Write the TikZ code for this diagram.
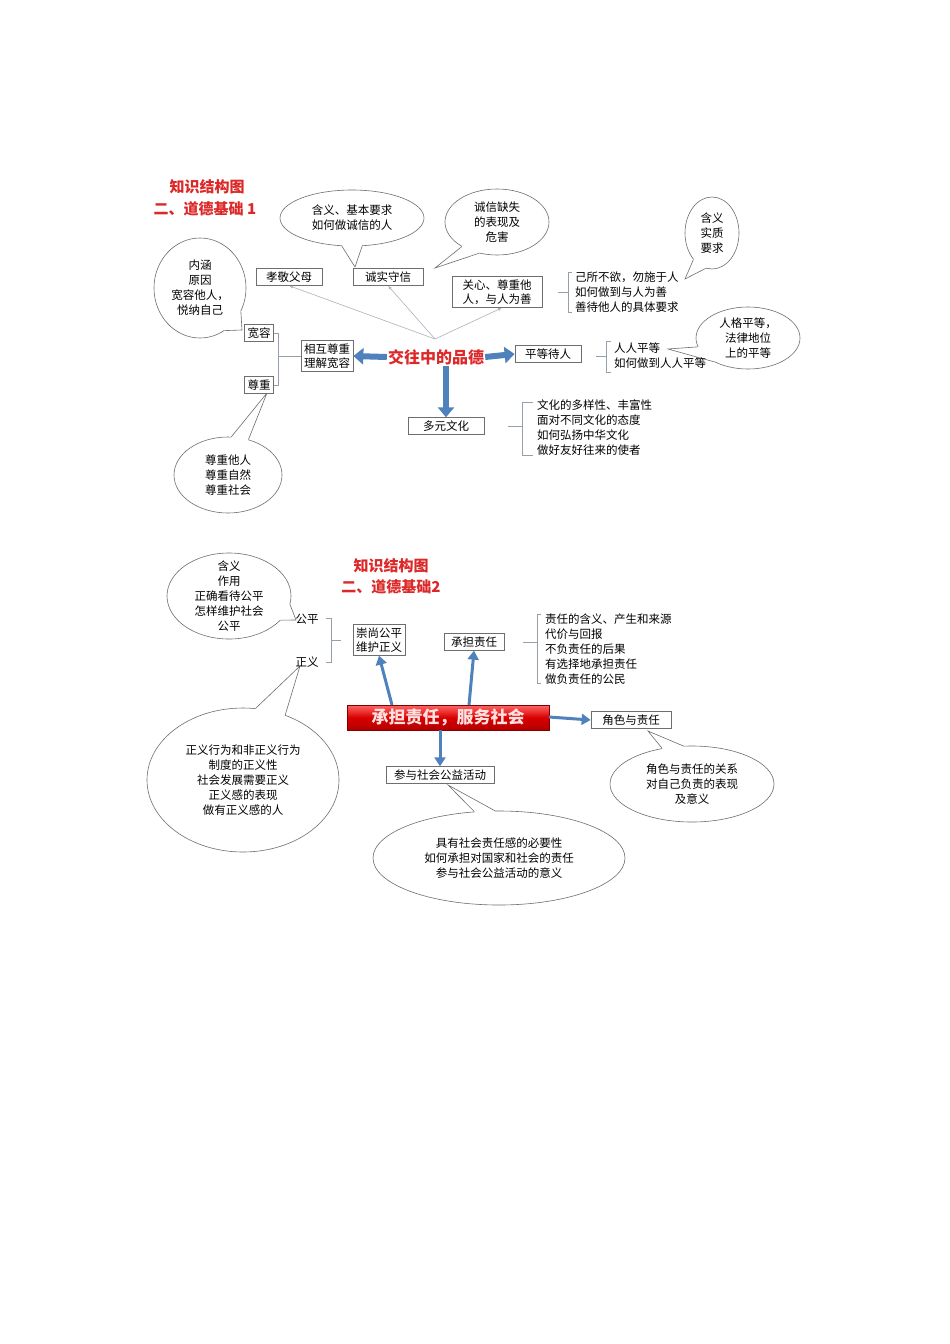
\documentclass[tikz,border=0pt]{standalone}
\usepackage{fontspec}
\setmainfont{Noto Sans CJK SC}
\usetikzlibrary{shapes.geometric,arrows.meta,calc}
\definecolor{tred}{RGB}{220,40,40}
\definecolor{ablue}{RGB}{79,129,189}
\definecolor{lgray}{RGB}{110,110,110}
\definecolor{brk}{RGB}{150,160,170}
\tikzset{
 box/.style={draw=lgray,line width=0.7pt,fill=white,inner sep=3pt,font=\fontsize{11.5}{13}\selectfont,align=center},
 txt/.style={font=\fontsize{11.5}{15}\selectfont,align=left,inner sep=0pt,anchor=west},
 ctxt/.style={font=\fontsize{11.5}{15}\selectfont,align=center,inner sep=0pt},
 bub/.style={ellipse,draw=lgray,line width=0.6pt,fill=white,inner sep=0pt},
 ttl/.style={font=\fontsize{15}{20}\selectfont\bfseries,text=tred,align=center,inner sep=0pt},
 thin/.style={draw=brk!80,line width=0.6pt,-{Latex[length=4pt]}},
 fat/.style={draw=ablue,line width=6pt,-{Triangle[length=10pt,width=16pt]}},
 blu/.style={draw=ablue,line width=3pt,-{Triangle[length=9pt,width=11pt]}},
 brkt/.style={draw=brk,line width=0.7pt}
}
\newcommand{\bubble}[9]{% name, x, y, rx, ry, a1, a2, tip, text
 \node[bub,minimum width=#4*2pt,minimum height=#5*2pt] (#1) at (#2,#3) {};
 \coordinate (#1t) at #8;
 \fill[white] (#1.#6) -- (#1t) -- (#1.#7) -- (#1.center) -- cycle;
 \draw[lgray,line width=0.6pt] (#1.#6) -- (#1t) -- (#1.#7);
 \node[ctxt] at (#2,#3) {#9};
}
\begin{document}
\begin{tikzpicture}[x=1pt,y=-1pt]
\useasboundingbox (0,0) rectangle (950,1344);
\fill[white] (0,0) rectangle (950,1344);
% ===== top =====
\node[ttl] at (207,187) {知识结构图};
\node[ttl] at (205,209) {二、道德基础 1};
\bubble{ba}{352}{218}{72}{28}{250}{290}{(355,267)}{含义、基本要求\\如何做诚信的人}
\bubble{bb}{497}{222}{52}{33}{215}{240}{(435,268)}{诚信缺失\\的表现及\\危害}
\bubble{bc}{712}{233}{27}{36}{235}{260}{(685,279)}{含义\\实质\\要求}
\bubble{bd}{200}{288}{46}{50}{300}{330}{(242,330)}{内涵\\原因\\宽容他人，\\悦纳自己}
\bubble{be}{228}{475}{54}{38}{60}{85}{(267,393)}{尊重他人\\尊重自然\\尊重社会}
\bubble{bf}{748}{338}{52}{31}{190}{215}{(668,349)}{人格平等，\\法律地位\\上的平等}
\node[box,minimum width=66pt] (xj) at (289,277) {孝敬父母};
\node[box,minimum width=70pt] (cs) at (388,277) {诚实守信};
\node[box,minimum width=90pt,font=\fontsize{11.5}{14}\selectfont] (gx) at (497,292) {关心、尊重他\\人，与人为善};
\node[box] (kr) at (259,333) {宽容};
\node[box] (zz) at (259,385) {尊重};
\node[box,font=\fontsize{11.5}{14}\selectfont] (xh) at (327,356) {相互尊重\\理解宽容};
\node[font=\fontsize{16}{18}\selectfont\bfseries,text=tred,inner sep=1pt] (cen) at (436,357) {交往中的品德};
\node[box,minimum width=66pt] (pd) at (548,354) {平等待人};
\node[box,minimum width=76pt] (dy) at (446,426) {多元文化};
\coordinate (hub) at (435,339);
\draw[thin] (hub) -- (xj.south);
\draw[thin] (hub) -- (cs.south);
\draw[thin] (hub) -- ($(gx.south)+(5,0)$);
\draw[fat] (cen.west) -- (xh.east);
\draw[fat] (cen.east) -- (pd.west);
\draw[fat] (cen.south -| dy.north) -- (dy.north);
\draw[brkt] (kr.east) -- ++(4,0) coordinate(k1) |- (zz.east) (k1 |- xh.west) -- ++(12,0) (k1|-xh.west) ++(6,0) -- (xh.west);
\node[txt] (l1) at (575,292) {己所不欲，勿施于人\\如何做到与人为善\\善待他人的具体要求};
\draw[brkt] (572,272) -- (568,272) -- (568,312) -- (572,312) (568,292) -- (558,292);
\node[txt] (l2) at (614,356) {人人平等\\如何做到人人平等};
\draw[brkt] (611,341) -- (606,341) -- (606,372) -- (611,372) (606,356) -- (596,356);
\node[txt] (l3) at (537,428) {文化的多样性、丰富性\\面对不同文化的态度\\如何弘扬中华文化\\做好友好往来的使者};
\draw[brkt] (533,402) -- (522,402) -- (522,455) -- (533,455) (522,426) -- (508,426);
% ===== bottom =====
\node[ttl] at (391,566) {知识结构图};
\node[ttl] at (391,587) {二、道德基础2};
\bubble{bg}{229}{596}{62}{43}{335}{352}{(296,620)}{含义\\作用\\正确看待公平\\怎样维护社会\\公平}
\bubble{bh}{243}{780}{96}{72}{57}{80}{(300,666)}{正义行为和非正义行为\\制度的正义性\\社会发展需要正义\\正义感的表现\\做有正义感的人}
\bubble{bi}{692}{784}{82}{38}{103}{130}{(648,731)}{角色与责任的关系\\对自己负责的表现\\及意义}
\bubble{bj}{499}{858}{126}{47}{95}{118}{(448,785)}{具有社会责任感的必要性\\如何承担对国家和社会的责任\\参与社会公益活动的意义}
\node[ctxt] (gp) at (307,619) {公平};
\node[ctxt] (zy) at (307,662) {正义};
\draw[brkt] (326,618) -- (331,618) -- (331,662) -- (326,662) (331,640) -- (341,640);
\node[box,font=\fontsize{11.5}{14}\selectfont] (cs2) at (379,640) {崇尚公平\\维护正义};
\node[box,minimum width=60pt] (cd) at (474,642) {承担责任};
\node[txt] at (545,649) {责任的含义、产生和来源\\代价与回报\\不负责任的后果\\有选择地承担责任\\做负责任的公民};
\draw[brkt] (541,614) -- (537,614) -- (537,683) -- (541,683) (537,642) -- (523,642);
\shade[top color=red!60!white,bottom color=red!70!black,middle color=red!85!black] (347,705) rectangle (549,730);
\draw[red!50!black,line width=0.4pt] (347,705) rectangle (549,730);
\node[font=\fontsize{17}{20}\selectfont\bfseries,text=red!12!white,inner sep=0pt] (ban) at (448,717.5) {承担责任，服务社会};
\node[box,minimum width=80pt] (js) at (631,720) {角色与责任};
\node[box,minimum width=108pt] (cy) at (440,775) {参与社会公益活动};
\draw[blu] (392,705) -- (cs2.south);
\draw[blu] (469,705) -- (cd.south);
\draw[blu] (440,730) -- (cy.north);
\draw[blu] (549,717) -- (js.west);
\end{tikzpicture}
\end{document}
